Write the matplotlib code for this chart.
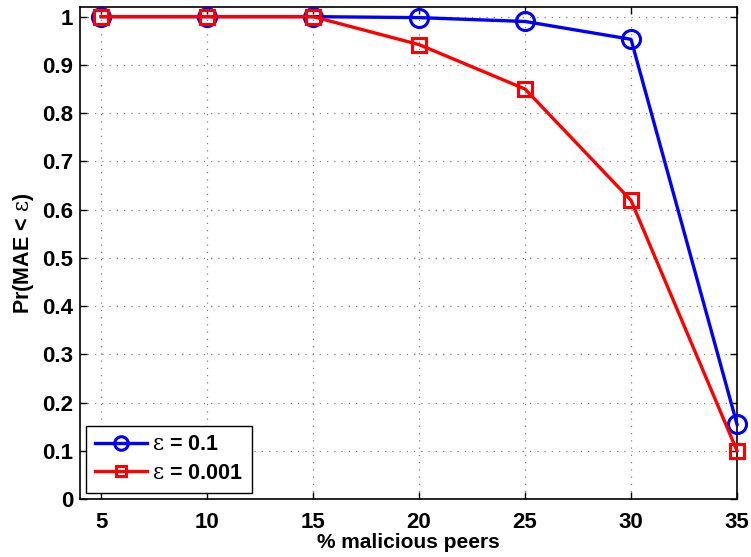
import matplotlib
matplotlib.use("Agg")
import matplotlib.pyplot as plt

plt.rcParams['font.family'] = ['Liberation Sans', 'DejaVu Sans']
plt.rcParams['mathtext.fontset'] = 'custom'
plt.rcParams['mathtext.rm'] = 'DejaVu Serif'

malicious_pct = [5, 10, 15, 20, 25, 30, 35]
pr_eps_01 = [1.0, 1.0, 1.0, 0.998, 0.990, 0.953, 0.155]
pr_eps_0001 = [1.0, 1.0, 1.0, 0.942, 0.850, 0.619, 0.100]
x_ticks = [5, 10, 15, 20, 25, 30, 35]
y_ticks = [0, 0.1, 0.2, 0.3, 0.4, 0.5, 0.6, 0.7, 0.8, 0.9, 1]
y_tick_labels = ['0', '0.1', '0.2', '0.3', '0.4', '0.5', '0.6', '0.7', '0.8', '0.9', '1']

EPS = r'$\mathrm{\varepsilon}$'

fig = plt.figure(figsize=(7.51, 5.57), dpi=100)
ax = fig.add_axes([80 / 751, 1 - 499 / 557, (737 - 80) / 751, (499 - 7) / 557])

ax.plot(malicious_pct, pr_eps_01, color='#0000ff', lw=2.4, marker='o', ms=13,
        mfc='none', mew=2.2, label=EPS + ' = 0.1', clip_on=False, zorder=3)
ax.plot(malicious_pct, pr_eps_0001, color='#ff0000', lw=2.4, marker='s', ms=10.5,
        mfc='none', mew=2.2, label=EPS + ' = 0.001', clip_on=False, zorder=4)

ax.set_xlim(4, 35)
ax.set_ylim(0, 1.02)
ax.set_xticks(x_ticks)
ax.set_yticks(y_ticks)
ax.set_yticklabels(y_tick_labels)
ax.tick_params(direction='in', top=True, right=True, length=5, width=1,
               labelsize=16)
ax.tick_params(axis='x', pad=9)
ax.tick_params(axis='y', pad=5)
for lab in ax.get_xticklabels() + ax.get_yticklabels():
    lab.set_fontweight('bold')
ax.grid(True, linestyle=(0, (1, 4.8)), color='#808080', linewidth=0.9)
for sp in ax.spines.values():
    sp.set_linewidth(1.2)

ax.set_xlabel('% malicious peers', fontsize=15, fontweight='bold', labelpad=0)
ax.set_ylabel('Pr(MAE < ' + EPS + ')', fontsize=15.5, fontweight='bold', labelpad=4)

leg = ax.legend(loc='lower left', prop={'weight': 'bold', 'size': 15.5},
                frameon=True, fancybox=False, edgecolor='black', framealpha=1,
                borderaxespad=0.3, handlelength=2.4, borderpad=0.4,
                labelspacing=0.35, handletextpad=0.25, markerscale=0.75)
leg.get_frame().set_linewidth(1.0)

fig.savefig('out.png', dpi=100)
